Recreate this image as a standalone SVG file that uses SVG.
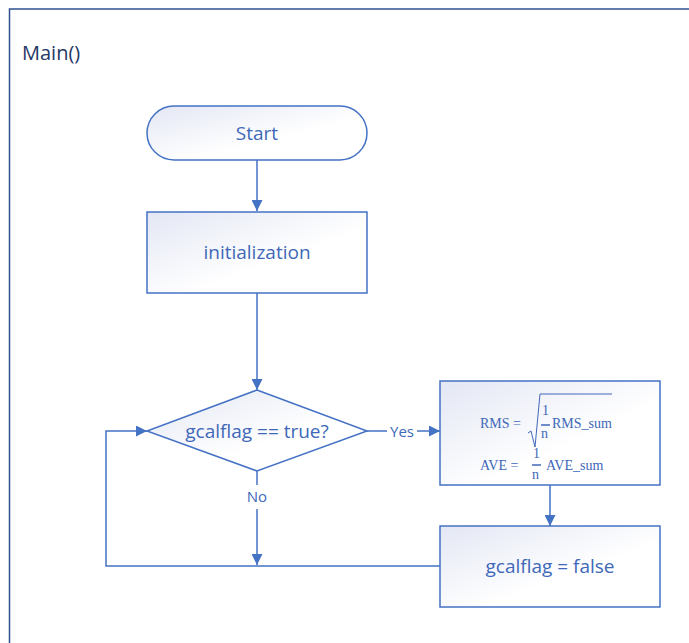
<svg xmlns="http://www.w3.org/2000/svg" width="689" height="643" viewBox="0 0 689 643">
<defs>
<linearGradient id="g" x1="0" y1="0" x2="1" y2="1">
<stop offset="0" stop-color="#E3E7F4"/>
<stop offset="0.6" stop-color="#FFFFFF"/>
<stop offset="1" stop-color="#FFFFFF"/>
</linearGradient>
<marker id="arr" viewBox="0 0 10 10" refX="10" refY="5" markerWidth="11" markerHeight="11" markerUnits="userSpaceOnUse" orient="auto">
<path d="M0,0 L10,5 L0,10 z" fill="#4472C4"/>
</marker>
<style>
.shape{fill:url(#g);stroke:#4472C4;stroke-width:1.5}
.lbl{font-family:"Open Sans","Noto Sans",sans-serif;font-size:19px;fill:#4068B8;text-anchor:middle}
.small{font-family:"Open Sans","Noto Sans",sans-serif;font-size:15px;fill:#4068B8;text-anchor:middle}
.math{font-family:"Liberation Serif",serif;font-size:14px;fill:#4068B8}
.conn{fill:none;stroke:#4472C4;stroke-width:1.5}
</style>
</defs>
<rect width="689" height="643" fill="#FFFFFF"/>
<g id="frame">
<path d="M9.5,643 V9 H689" fill="none" stroke="#2F528F" stroke-width="1.5"/>
<text x="22" y="60" style="font-family:'Open Sans','Noto Sans',sans-serif;font-size:20px;fill:#1F3864">Main()</text>
</g>
<g id="connectors">
<line class="conn" x1="257" y1="160" x2="257" y2="211" marker-end="url(#arr)"/>
<line class="conn" x1="257" y1="293" x2="257" y2="390" marker-end="url(#arr)"/>
<polyline class="conn" points="367,431 387,431"/>
<line class="conn" x1="417" y1="431" x2="440" y2="431" marker-end="url(#arr)"/>
<text class="small" x="402" y="437">Yes</text>
<line class="conn" x1="550" y1="485" x2="550" y2="526" marker-end="url(#arr)"/>
<line class="conn" x1="257" y1="471" x2="257" y2="485"/>
<line class="conn" x1="257" y1="509" x2="257" y2="565" marker-end="url(#arr)"/>
<text class="small" x="257" y="502">No</text>
<polyline class="conn" points="440,566 106,566 106,431 147,431" marker-end="url(#arr)"/>
</g>
<g id="start">
<rect class="shape" x="147" y="106" width="220" height="54" rx="27" ry="27"/>
<text class="lbl" x="257" y="140">Start</text>
</g>
<g id="init">
<rect class="shape" x="147" y="212" width="220" height="81"/>
<text class="lbl" x="257" y="259">initialization</text>
</g>
<g id="decision">
<polygon class="shape" points="257,390 367,431 257,471 147,431"/>
<text class="lbl" x="257" y="438">gcalflag == true?</text>
</g>
<g id="calc">
<rect class="shape" x="440" y="381" width="220" height="104"/>
<text class="math" x="480" y="428">RMS =</text>
<path d="M528,433 L531,431 L535,447 L540,394 H612" fill="none" stroke="#4068B8" stroke-width="1"/>
<text class="math" x="542" y="415">1</text>
<line x1="541" y1="425" x2="550" y2="425" stroke="#4068B8" stroke-width="1.5"/>
<text class="math" x="541" y="438">n</text>
<text class="math" x="552" y="428">RMS_sum</text>
<text class="math" x="480" y="470">AVE =</text>
<text class="math" x="533" y="458">1</text>
<line x1="532" y1="465" x2="541" y2="465" stroke="#4068B8" stroke-width="1.5"/>
<text class="math" x="532" y="479">n</text>
<text class="math" x="546" y="470">AVE_sum</text>
</g>
<g id="reset">
<rect class="shape" x="440" y="526" width="220" height="81"/>
<text class="lbl" x="550" y="573">gcalflag = false</text>
</g>
</svg>
